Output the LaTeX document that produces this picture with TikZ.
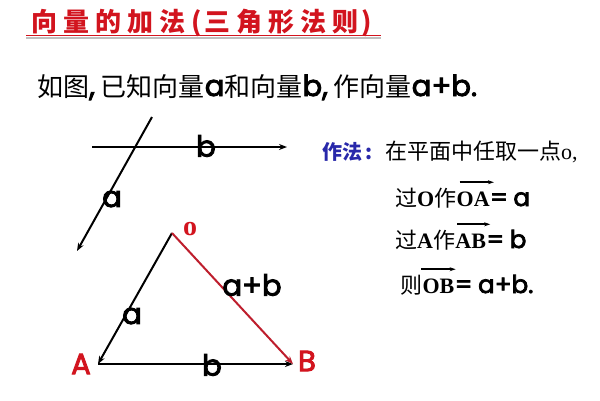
\documentclass[tikz,border=0pt]{standalone}
\usepackage{fontspec}
\setmainfont{Liberation Serif}
\newfontfamily\cjk{Noto Sans CJK SC}
\newfontfamily\lat{Poppins}[Scale=1.12,FakeBold=3]
\usetikzlibrary{arrows.meta}
\definecolor{tred}{RGB}{210,20,30}
\definecolor{lred}{RGB}{190,30,45}
\definecolor{tblue}{RGB}{40,40,170}
\newcommand\hsp{\hspace{6pt}}
\begin{document}
\begin{tikzpicture}[x=1pt,y=-1pt,
  vec/.style={line width=2pt,-{Stealth[length=8pt,width=6pt]}},
  ovec/.style={line width=1.6pt,-{Stealth[length=6pt,width=4pt]}},
  lbl/.style={inner sep=0,font=\fontsize{26}{26}\selectfont\lat},
  txt/.style={inner sep=0,anchor=base west},
  rfs/.style={font=\fontsize{22}{22}\selectfont}]
\useasboundingbox (0,0) rectangle (600,400);
\fill[white] (0,0) rectangle (600,400);
% title
\node[txt,text=tred,font=\fontsize{26}{26}\selectfont\cjk\bfseries] (title) at (31,31)
  {向\hsp 量\hsp 的\hsp 加\hsp 法\hsp(\hspace{3pt}三\hsp 角\hsp 形\hsp 法\hsp 则\hspace{3pt})};
\coordinate (u1) at (26,35.5); \coordinate (u2) at (381,35.5);
\draw[black!25,line width=1.2pt] ([yshift=-2.5pt]u1) -- ([yshift=-2.5pt]u2);
\draw[tred,line width=1.8pt] (u1) -- (u2);
% intro line
\node[txt,font=\fontsize{26}{26}\selectfont\cjk] (intro) at (37,96)
  {如图{\lat ,} 已知向量{\lat a}和向量{\lat b}{\lat ,} 作向量{\lat a+b}{\lat .}};
% given vectors
\coordinate (b1) at (92,147); \coordinate (b2) at (287,147);
\draw[vec] (b1) -- (b2);
\coordinate (a1) at (152,117); \coordinate (a2) at (77,251);
\draw[vec] (a1) -- (a2);
\node[lbl] (lb) at (206,146) {b};
\node[lbl] (la) at (112,199) {a};
% triangle
\coordinate (O) at (172,233); \coordinate (A) at (98,364); \coordinate (B) at (293,364);
\draw[vec] (O) -- (A);
\draw[vec] (A) -- (B);
\draw[vec,lred] (O) -- (B);
\node[lbl,text=tred] (nA) at (81,364) {A};
\node[lbl,text=tred] (nB) at (307,361) {B};
\node[inner sep=0,text=tred,font=\fontsize{28}{28}\selectfont\bfseries] (nO) at (190,229) {o};
\node[lbl] (lOA) at (132,316) {a};
\node[lbl] (lOB) at (252,285) {a+b};
\node[lbl] (lAB) at (212,365) {b};
% method text
\node[txt,text=tblue,font=\fontsize{20}{20}\selectfont\cjk\bfseries] (zf) at (322,159) {作法\hspace{3pt}:};
\node[txt,rfs] (s1) at (385,159) {{\cjk 在平面中任取一点}o,};
\node[txt,rfs] (p1) at (395,206) {{\cjk 过}{\bfseries O}{\cjk 作}};
\node[txt,rfs] (v1) at (p1.base east) {\bfseries OA};
\node[txt,rfs] (e1) at (v1.base east) {{\lat =} {\lat a}};
\draw[ovec] ([xshift=3pt,yshift=9pt]v1.north west) -- ([xshift=4pt,yshift=9pt]v1.north east);
\node[txt,rfs] (p2) at (395,248) {{\cjk 过}{\bfseries A}{\cjk 作}};
\node[txt,rfs] (v2) at (p2.base east) {\bfseries AB};
\node[txt,rfs] (e2) at (v2.base east) {{\lat =} {\lat b}};
\draw[ovec] ([xshift=2pt,yshift=9pt]v2.north west) -- ([xshift=4pt,yshift=9pt]v2.north east);
\node[txt,rfs] (p3) at (400,293) {{\cjk 则}};
\node[txt,rfs] (v3) at (p3.base east) {\bfseries OB};
\node[txt,rfs] (e3) at (v3.base east) {{\lat =} {\lat a+b.}};
\draw[ovec] ([xshift=-1pt,yshift=9pt]v3.north west) -- ([xshift=1pt,yshift=9pt]v3.north east);
\end{tikzpicture}
\end{document}
